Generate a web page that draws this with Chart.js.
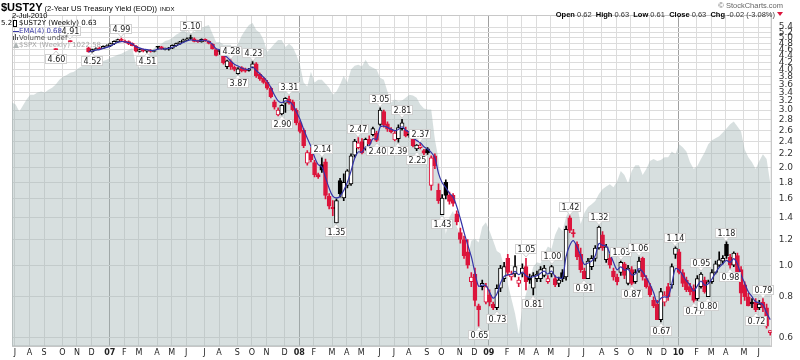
<!DOCTYPE html>
<html>
<head>
<meta charset="utf-8">
<style>
  html, body { margin: 0; padding: 0; background: #fff; }
  #wrap { width: 800px; height: 360px; }
</style>
<script src="https://cdn.jsdelivr.net/npm/chart.js@4.4.1/dist/chart.umd.min.js"></script>
</head>
<body>
<div id="wrap"><canvas id="ustChart" width="800" height="360"></canvas></div>
<script>
// weekly bars, week 0 = 7-Jul-2006, last = 2-Jul-2010 (week 208)
const firstWeek = 12;
const emaStart = 21;

// $UST2Y weekly OHLC from week 12 on (null = no bar)
const weekOpen = [
  4.62, null, null, null, 4.88, null, null, null, null, 4.66,
  4.53, 4.60, 4.66, 4.64, 4.70, 4.72, 4.79, 4.86, 4.95, 4.89,
  4.87, 4.81, 4.72, 4.54, 4.60, 4.55, 4.58, 4.54, 4.70, 4.69,
  4.61, 4.62, 4.65, 4.73, 4.79, 4.86, 4.92, 5.00, 4.97, 4.88,
  4.86, 4.95, 4.88, 4.78, 4.60, 4.57, 4.48, 4.08, 4.22, 4.06,
  3.88, 4.05, 4.00, 3.97, 4.06, 4.16, 3.86, 3.76, 3.66, 3.50,
  3.18, 2.90, 2.92, 3.15, 3.24, 3.18, 3.00, 2.74, 2.60, 2.06,
  2.22, 2.07, 1.90, 2.04, 2.08, 1.63, 1.51, 1.35, 1.82, 1.61,
  1.76, 1.78, 2.18, 2.30, 2.40, 2.28, 2.44, 2.52, 2.55, 2.71,
  2.97, 2.72, 2.62, 2.43, 2.45, 2.63, 2.60, 2.53, 2.52, 2.28,
  2.30, 2.25, 2.28, 1.76, 2.17, 1.70, 1.43, 1.80, 1.64, 1.64,
  1.44, 1.26, 1.20, 1.10, 0.89, 0.94, 0.75, 0.86, 0.77, 0.81,
  0.76, 0.74, 0.85, 0.91, 1.05, 0.92, 0.94, 0.88, 0.94, 0.99,
  0.92, 0.85, 0.91, 0.91, 0.93, 0.89, 0.94, 0.91, 0.88, 0.95,
  0.92, 1.40, 1.26, 1.16, 1.08, 0.96, 0.91, 0.99, 1.05, 1.13,
  1.24, 1.04, 1.05, 0.96, 0.92, 0.95, 1.01, 0.88, 0.97, 0.89,
  0.96, 1.05, 0.91, 0.86, 0.78, 0.76, 0.68, 0.77, 0.86, 0.87,
  1.08, 1.10, 0.95, 0.90, 0.86, 0.85, 0.79, 0.86, 0.90, 0.80,
  0.89, 0.95, 1.00, 1.03, 1.16, 1.06, 1.00, 1.07, 0.97, 0.87,
  0.80, 0.77, 0.77, 0.74, 0.77, 0.74, 0.62
];
const weekHigh = [
  4.62, null, null, null, 4.91, null, null, null, null, 4.68,
  4.62, 4.66, 4.68, 4.73, 4.76, 4.82, 4.90, 4.96, 4.99, 4.92,
  4.90, 4.83, 4.74, 4.63, 4.62, 4.60, 4.60, 4.58, 4.71, 4.71,
  4.65, 4.68, 4.76, 4.82, 4.88, 4.96, 5.00, 5.10, 5.00, 4.92,
  4.97, 4.97, 4.90, 4.80, 4.62, 4.60, 4.50, 4.27, 4.28, 4.10,
  4.05, 4.08, 4.04, 4.03, 4.23, 4.20, 3.90, 3.78, 3.70, 3.53,
  3.22, 3.05, 3.12, 3.28, 3.31, 3.22, 3.03, 2.78, 2.63, 2.25,
  2.30, 2.10, 1.92, 2.14, 2.12, 1.66, 1.58, 1.60, 1.85, 1.91,
  1.97, 2.20, 2.44, 2.47, 2.45, 2.46, 2.50, 2.66, 2.58, 3.05,
  3.00, 2.76, 2.65, 2.58, 2.70, 2.81, 2.66, 2.56, 2.56, 2.35,
  2.37, 2.27, 2.30, 2.17, 2.20, 1.78, 1.65, 1.83, 1.68, 1.66,
  1.47, 1.30, 1.23, 1.20, 0.95, 0.98, 0.76, 0.90, 0.88, 0.84,
  0.77, 0.87, 1.00, 1.02, 1.08, 0.96, 1.07, 0.92, 1.01, 1.05,
  0.94, 0.95, 0.96, 0.99, 1.00, 0.93, 1.00, 0.93, 0.92, 0.97,
  1.32, 1.42, 1.29, 1.18, 1.13, 0.98, 1.05, 1.07, 1.15, 1.32,
  1.27, 1.16, 1.08, 0.98, 0.94, 1.03, 1.02, 1.00, 0.99, 0.97,
  1.06, 1.06, 0.93, 0.88, 0.80, 0.78, 0.85, 0.83, 0.88, 1.01,
  1.14, 1.12, 0.97, 0.92, 0.88, 0.87, 0.93, 0.95, 0.92, 0.90,
  0.97, 1.03, 1.10, 1.07, 1.18, 1.08, 1.10, 1.09, 0.99, 0.89,
  0.82, 0.79, 0.79, 0.78, 0.79, 0.76, 0.63
];
const weekLow = [
  4.60, null, null, null, 4.86, null, null, null, null, 4.52,
  4.52, 4.59, 4.61, 4.63, 4.68, 4.70, 4.77, 4.84, 4.88, 4.83,
  4.77, 4.72, 4.53, 4.52, 4.53, 4.51, 4.52, 4.53, 4.62, 4.61,
  4.59, 4.58, 4.63, 4.71, 4.77, 4.84, 4.90, 4.95, 4.86, 4.84,
  4.85, 4.88, 4.79, 4.62, 4.40, 4.45, 4.15, 4.02, 4.00, 3.96,
  3.87, 3.93, 3.92, 3.95, 4.04, 3.78, 3.70, 3.62, 3.47, 3.27,
  3.02, 2.88, 2.90, 2.95, 3.13, 2.98, 2.70, 2.55, 2.30, 2.03,
  2.08, 1.87, 1.85, 1.93, 1.60, 1.49, 1.42, 1.35, 1.62, 1.58,
  1.73, 1.76, 2.15, 2.28, 2.20, 2.26, 2.34, 2.50, 2.40, 2.69,
  2.66, 2.58, 2.55, 2.41, 2.39, 2.60, 2.48, 2.47, 2.31, 2.25,
  2.28, 2.18, 2.19, 1.70, 1.98, 1.55, 1.43, 1.60, 1.54, 1.52,
  1.33, 1.17, 1.05, 0.98, 0.86, 0.75, 0.65, 0.84, 0.76, 0.75,
  0.73, 0.73, 0.83, 0.89, 0.93, 0.90, 0.92, 0.86, 0.92, 0.84,
  0.88, 0.81, 0.89, 0.89, 0.92, 0.88, 0.92, 0.86, 0.86, 0.89,
  0.90, 1.26, 1.22, 1.04, 0.95, 0.91, 0.92, 0.97, 1.03, 1.12,
  1.11, 1.02, 0.98, 0.90, 0.87, 0.93, 0.91, 0.87, 0.87, 0.88,
  0.95, 0.90, 0.85, 0.80, 0.74, 0.68, 0.67, 0.75, 0.78, 0.85,
  1.05, 0.94, 0.86, 0.83, 0.81, 0.77, 0.78, 0.85, 0.82, 0.80,
  0.88, 0.94, 0.99, 1.01, 1.05, 0.98, 0.99, 0.94, 0.76, 0.78,
  0.75, 0.74, 0.72, 0.73, 0.72, 0.64, 0.61
];
const weekClose = [
  4.60, null, null, null, 4.87, null, null, null, null, 4.53,
  4.60, 4.63, 4.62, 4.71, 4.72, 4.80, 4.88, 4.94, 4.91, 4.85,
  4.79, 4.73, 4.55, 4.60, 4.56, 4.58, 4.54, 4.57, 4.68, 4.63,
  4.64, 4.66, 4.74, 4.80, 4.86, 4.93, 4.97, 4.98, 4.88, 4.87,
  4.95, 4.90, 4.81, 4.63, 4.42, 4.54, 4.19, 4.25, 4.08, 4.00,
  4.02, 3.96, 3.95, 4.01, 4.16, 3.82, 3.74, 3.65, 3.50, 3.30,
  3.06, 3.00, 3.10, 3.26, 3.16, 3.01, 2.74, 2.58, 2.33, 2.22,
  2.11, 1.90, 1.87, 1.96, 1.64, 1.52, 1.49, 1.58, 1.66, 1.80,
  1.95, 2.17, 2.41, 2.38, 2.22, 2.44, 2.36, 2.63, 2.42, 3.00,
  2.70, 2.62, 2.57, 2.55, 2.65, 2.74, 2.50, 2.51, 2.33, 2.34,
  2.33, 2.21, 2.22, 2.14, 2.02, 1.58, 1.61, 1.64, 1.57, 1.55,
  1.36, 1.20, 1.07, 1.00, 0.92, 0.78, 0.73, 0.88, 0.86, 0.77,
  0.74, 0.85, 0.98, 0.99, 0.95, 0.94, 0.99, 0.90, 0.98, 0.89,
  0.90, 0.93, 0.94, 0.97, 0.98, 0.91, 0.99, 0.87, 0.90, 0.91,
  1.29, 1.28, 1.25, 1.06, 0.97, 0.91, 1.03, 1.05, 1.13, 1.31,
  1.13, 1.14, 1.00, 0.92, 0.89, 1.02, 0.93, 0.98, 0.88, 0.95,
  1.03, 0.92, 0.86, 0.81, 0.75, 0.68, 0.83, 0.81, 0.80, 0.99,
  1.13, 0.95, 0.88, 0.84, 0.83, 0.78, 0.91, 0.94, 0.83, 0.89,
  0.95, 1.01, 1.04, 1.05, 1.07, 1.00, 1.09, 0.95, 0.82, 0.80,
  0.75, 0.76, 0.73, 0.76, 0.74, 0.65, 0.63
];

// $SPX weekly close, weeks 0..208
const spxClose = [
  1264, 1257, 1234, 1254, 1274, 1290, 1290, 1297, 1301, 1297,
  1307, 1314, 1325, 1342, 1352, 1359, 1367, 1370, 1381, 1389,
  1396, 1407, 1403, 1403, 1407, 1410, 1414, 1422, 1426, 1433,
  1437, 1444, 1451, 1459, 1396, 1385, 1407, 1426, 1444, 1459,
  1467, 1475, 1486, 1490, 1498, 1510, 1518, 1529, 1518, 1518,
  1521, 1529, 1537, 1545, 1550, 1514, 1482, 1482, 1471, 1471,
  1471, 1444, 1475, 1506, 1529, 1550, 1558, 1529, 1518, 1490,
  1444, 1459, 1475, 1490, 1490, 1462, 1475, 1462, 1433, 1396,
  1332, 1318, 1370, 1332, 1342, 1342, 1328, 1314, 1290, 1301,
  1325, 1356, 1332, 1378, 1392, 1396, 1389, 1414, 1392, 1385,
  1378, 1349, 1342, 1301, 1264, 1274, 1267, 1270, 1280, 1290,
  1287, 1280, 1257, 1244, 1241, 1241, 1147, 1089, 980, 894,
  935, 950, 911, 894, 849, 838, 878, 883, 874, 911,
  922, 901, 878, 855, 849, 820, 785, 754, 725, 688,
  735, 764, 791, 820, 830, 827, 849, 865, 860, 892,
  911, 901, 935, 955, 970, 967, 918, 945, 960, 967,
  975, 993, 1006, 1013, 1019, 1011, 1027, 1055, 1044, 1022,
  1055, 1071, 1071, 1044, 1061, 1083, 1089, 1083, 1086, 1094,
  1094, 1111, 1103, 1132, 1123, 1111, 1080, 1061, 1069, 1089,
  1108, 1132, 1144, 1150, 1156, 1168, 1180, 1193, 1202, 1186,
  1171, 1117, 1094, 1080, 1061, 1083, 1103, 1089, 1022.58
];

const yTicks = [0.6, 0.8, 1.0, 1.2, 1.4, 1.6, 1.8, 2.0, 2.2, 2.4, 2.6, 2.8, 3.0,
  3.2, 3.4, 3.6, 3.8, 4.0, 4.2, 4.4, 4.6, 4.8, 5.0, 5.2, 5.4];

// first weekly bar of each month
const monthIdx = [0, 4, 8, 13, 17, 21,
  26, 30, 34, 39, 43, 47, 52, 56, 61, 65, 69, 74,
  78, 82, 87, 91, 95, 100, 104, 108, 113, 117, 122, 126,
  130, 135, 139, 143, 147, 152, 156, 161, 165, 169, 174, 178,
  182, 187, 191, 195, 200, 204];
const monthLabels = ['J', 'A', 'S', 'O', 'N', 'D',
  '07', 'F', 'M', 'A', 'M', 'J', 'J', 'A', 'S', 'O', 'N', 'D',
  '08', 'F', 'M', 'A', 'M', 'J', 'J', 'A', 'S', 'O', 'N', 'D',
  '09', 'F', 'M', 'A', 'M', 'J', 'J', 'A', 'S', 'O', 'N', 'D',
  '10', 'F', 'M', 'A', 'M', 'J'];

// swing high / low tags
const annIdx = [12, 16, 22, 30, 37, 49, 60, 62, 66, 76, 74, 85, 89, 95, 100, 101, 107, 106,
  112, 111, 118, 128, 133, 141, 143, 148, 153, 157, 161, 167, 170, 172, 178, 182, 187, 189,
  191, 196, 197, 204, 206];
const annSide = ['L', 'H', 'L', 'H', 'L', 'H', 'H', 'L', 'H', 'H', 'L', 'H', 'L', 'H', 'L', 'H', 'H', 'L',
  'H', 'L', 'L', 'L', 'L', 'H', 'L', 'H', 'H', 'L', 'H', 'H', 'L', 'H', 'L', 'H', 'L', 'H',
  'L', 'H', 'L', 'L', 'H'];

const RED = '#dc143c';
const BLACK = '#000000';

const bodyData = [], wickData = [], bodyFill = [], bodyLine = [];
const emaData = [];
let ema = null;
for (let k = 0; k < weekClose.length; k++) {
  const c = weekClose[k];
  if (c == null) continue;
  const i = firstWeek + k;
  const o = weekOpen[k];
  const prev = (k > 0 && weekClose[k - 1] != null) ? weekClose[k - 1] : o;
  const col = c < prev ? RED : BLACK;
  bodyData.push({ x: i, y: [o, c] });
  wickData.push({ x: i, y: [weekLow[k], weekHigh[k]] });
  bodyFill.push(c >= o ? '#ffffff' : col);
  bodyLine.push(col);
  if (i >= emaStart) {
    ema = ema == null ? c : ema + 0.4 * (c - ema);
    emaData.push({ x: i, y: ema });
  }
}
const spxData = spxClose.map((v, i) => ({ x: i, y: v }));

const FONT = '"DejaVu Sans", Verdana, sans-serif';
const HFONT = '"Liberation Sans", Arial, sans-serif';

const overlay = {
  id: 'overlay',
  beforeDatasetsDraw(chart) {
    const { ctx, chartArea: a } = chart;
    ctx.save();
    ctx.strokeStyle = '#c8c8c8';
    ctx.lineWidth = 1;
    ctx.strokeRect(a.left + 0.5, a.top + 0.5, a.right - a.left - 1, a.bottom - a.top - 1);
    ctx.restore();
  },
  afterDatasetsDraw(chart) {
    const ctx = chart.ctx, xs = chart.scales.x, ys = chart.scales.y;
    ctx.save();
    ctx.font = '8px ' + FONT;
    ctx.textAlign = 'center';
    ctx.textBaseline = 'middle';
    annIdx.forEach((i, n) => {
      const k = i - firstWeek;
      const hi = annSide[n] === 'H';
      const v = hi ? weekHigh[k] : weekLow[k];
      const txt = v.toFixed(2);
      const px = Math.round(xs.getPixelForValue(i));
      const py = ys.getPixelForValue(v);
      const w = Math.round(ctx.measureText(txt).width) + 4, h = 10;
      const by = Math.round(hi ? py - 4 - h : py + 4);
      ctx.fillStyle = '#ffffff';
      ctx.strokeStyle = '#d0d0d0';
      ctx.fillRect(px - w / 2, by, w, h);
      ctx.strokeRect(px - w / 2 + 0.5, by + 0.5, w - 1, h - 1);
      ctx.beginPath();
      if (hi) {
        ctx.moveTo(px - 3, by + h - 0.5); ctx.lineTo(px, by + h + 3); ctx.lineTo(px + 3, by + h - 0.5);
      } else {
        ctx.moveTo(px - 3, by + 0.5); ctx.lineTo(px, by - 3); ctx.lineTo(px + 3, by + 0.5);
      }
      ctx.fill();
      ctx.stroke();
      ctx.fillStyle = '#222222';
      ctx.fillText(txt, px + 0.5, by + h / 2 + 0.5);
    });
    ctx.restore();
  },
  afterDraw(chart) {
    const ctx = chart.ctx;
    ctx.save();
    ctx.textBaseline = 'alphabetic';
    ctx.textAlign = 'left';
    // title
    ctx.fillStyle = '#000';
    ctx.font = 'bold 11px ' + HFONT;
    ctx.fillText('$UST2Y', 1, 11);
    let x = 1 + ctx.measureText('$UST2Y').width + 2;
    ctx.font = '7.5px ' + HFONT;
    ctx.fillText('(2-Year US Treasury Yield (EOD))', x, 11);
    x += ctx.measureText('(2-Year US Treasury Yield (EOD))').width + 3;
    ctx.font = '6px ' + HFONT;
    ctx.fillText('INDX', x, 11);
    ctx.font = '7.5px ' + HFONT;
    ctx.fillText('2-Jul-2010', 12, 18);
    // top right
    ctx.textAlign = 'right';
    ctx.fillStyle = '#666';
    ctx.font = '7.5px ' + HFONT;
    ctx.fillText('\u00A9 StockCharts.com', 783, 8);
    const parts = [['Open', true], [' 0.62  ', false], ['High', true], [' 0.63  ', false],
      ['Low', true], [' 0.61  ', false], ['Close', true], [' 0.63  ', false],
      ['Chg', true], [' -0.02 (-3.08%)', false]];
    ctx.font = '7.5px ' + HFONT;
    let wsum = 0;
    parts.forEach(p => { ctx.font = (p[1] ? 'bold ' : '') + '7.5px ' + HFONT; wsum += ctx.measureText(p[0]).width; });
    ctx.textAlign = 'left';
    x = 775 - wsum;
    parts.forEach(p => {
      ctx.font = (p[1] ? 'bold ' : '') + '7.5px ' + HFONT;
      ctx.fillStyle = p[1] ? '#000' : '#333';
      ctx.fillText(p[0], x, 17);
      x += ctx.measureText(p[0]).width;
    });
    ctx.fillStyle = RED;
    ctx.beginPath();
    ctx.moveTo(777, 12); ctx.lineTo(783, 12); ctx.lineTo(780, 16);
    ctx.fill();
    // legend
    ctx.font = '7px ' + FONT;
    ctx.textBaseline = 'middle';
    ctx.fillStyle = '#000';
    ctx.fillText('5.2', 1, 23);
    ctx.fillStyle = '#fff';
    ctx.fillRect(13, 20, 3, 7);
    ctx.strokeStyle = '#000';
    ctx.strokeRect(13.5, 20.5, 3, 6);
    ctx.fillStyle = '#000';
    ctx.fillText('$UST2Y (Weekly) 0.63', 19, 23.5);
    ctx.strokeStyle = '#3c3ca8';
    ctx.beginPath(); ctx.moveTo(13, 31.5); ctx.lineTo(19, 31.5); ctx.stroke();
    ctx.fillStyle = '#3c3ca8';
    ctx.fillText('EMA(4) 0.68', 19, 31.5);
    ctx.fillStyle = '#555';
    ctx.fillRect(13, 36, 1, 4); ctx.fillRect(15, 34, 1, 6); ctx.fillRect(17, 37, 1, 3);
    ctx.fillText('Volume undef', 19, 38.5);
    ctx.fillStyle = '#b0b6b6';
    ctx.beginPath(); ctx.moveTo(13, 48); ctx.lineTo(16, 42); ctx.lineTo(19, 48); ctx.fill();
    ctx.fillStyle = '#a8a8a8';
    ctx.fillText('$SPX (Weekly) 1022.58', 19, 45.5);
    ctx.restore();
  }
};

new Chart(document.getElementById('ustChart'), {
  type: 'line',
  data: {
    datasets: [
      {
        type: 'line',
        label: 'EMA(4)',
        data: emaData,
        borderColor: '#3434a8',
        borderWidth: 1.2,
        pointRadius: 0,
        tension: 0.3,
        order: 0
      },
      {
        type: 'bar',
        label: 'body',
        data: bodyData,
        backgroundColor: bodyFill,
        borderColor: bodyLine,
        borderWidth: 1,
        borderSkipped: false,
        barThickness: 4,
        minBarLength: 1,
        grouped: false,
        order: 1
      },
      {
        type: 'bar',
        label: 'wick',
        data: wickData,
        backgroundColor: bodyLine,
        borderWidth: 0,
        barThickness: 1,
        minBarLength: 1,
        grouped: false,
        order: 2
      },
      {
        type: 'line',
        label: '$SPX',
        data: spxData,
        yAxisID: 'ys',
        borderColor: 'rgba(170,185,185,0.0)',
        borderWidth: 0,
        backgroundColor: 'rgba(160,178,178,0.42)',
        pointRadius: 0,
        fill: 'start',
        tension: 0,
        order: 3
      }
    ]
  },
  options: {
    responsive: false,
    animation: false,
    devicePixelRatio: 1,
    layout: { padding: { top: 15, left: 12, right: 0, bottom: 0 } },
    plugins: {
      legend: { display: false },
      tooltip: { enabled: false }
    },
    scales: {
      x: {
        type: 'linear',
        min: 0,
        max: 208.4,
        offset: false,
        afterBuildTicks: (s) => { s.ticks = monthIdx.map(i => ({ value: i + 0.8 })); },
        ticks: {
          autoSkip: false,
          maxRotation: 0,
          padding: 2,
          color: '#222',
          font: (c) => ({ family: FONT, size: 8, weight: monthLabels[c.index] && monthLabels[c.index].length === 2 ? 'bold' : 'normal' }),
          callback: (v, idx) => monthLabels[idx]
        },
        grid: {
          drawTicks: false,
          offset: false,
          color: (c) => monthLabels[c.index] && monthLabels[c.index].length === 2 ? '#a0a0a0' : '#dcdcdc'
        },
        border: { display: true, color: '#c8c8c8' }
      },
      y: {
        type: 'logarithmic',
        position: 'right',
        min: 0.563,
        max: 5.88,
        bounds: 'data',
        afterBuildTicks: (s) => { s.ticks = yTicks.map(v => ({ value: v })); },
        ticks: {
          autoSkip: false,
          padding: 7,
          color: '#333',
          font: { family: FONT, size: 9 },
          callback: (v) => Number(v).toFixed(1)
        },
        grid: { drawTicks: false, color: '#dcdcdc' },
        border: { display: true, color: '#c8c8c8' }
      },
      ys: {
        type: 'logarithmic',
        display: false,
        min: 665,
        max: 1591,
        bounds: 'data'
      }
    }
  },
  plugins: [overlay]
});
</script>
</body>
</html>
